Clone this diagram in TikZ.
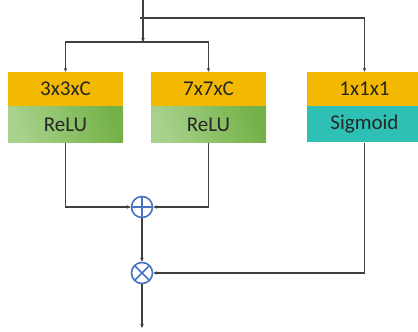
\documentclass[tikz,border=0pt]{standalone}
\usepackage{fontspec}
\setmainfont{Carlito}
\usetikzlibrary{arrows.meta,positioning,calc}
\definecolor{kgold}{RGB}{242,185,0}
\definecolor{kgreenA}{RGB}{168,210,140}
\definecolor{kgreenB}{RGB}{116,178,72}
\definecolor{kteal}{RGB}{46,192,181}
\definecolor{kblue}{RGB}{68,114,196}
\definecolor{kline}{RGB}{64,64,64}
\begin{document}
\begin{tikzpicture}[x=1pt,y=-1pt,
  convbox/.style={fill=kgold,minimum width=115pt,minimum height=34pt,inner sep=0pt,
    font=\fontsize{21}{24}\selectfont,text=black!85},
  actbox/.style={minimum width=115pt,minimum height=36pt,inner sep=0pt,
    font=\fontsize{21}{24}\selectfont,text=black!85},
  reluact/.style={actbox,left color=kgreenA,right color=kgreenB,shading angle=110},
  sigact/.style={actbox,fill=kteal},
  opcircle/.style={circle,draw=kblue,line width=1.6pt,minimum size=21pt,inner sep=0pt},
  conn/.style={-{Stealth[length=4pt,width=3.5pt]},kline,line width=1.1pt},
  wire/.style={kline,line width=1.1pt}
]
  \useasboundingbox (0,0) rectangle (418,332);
  % kernels
  \node[convbox] (k3) at (65.5,89) {3x3xC};
  \node[reluact,below=0pt of k3] (r3) {ReLU};
  \node[convbox] (k7) at (208.5,89) {7x7xC};
  \node[reluact,below=0pt of k7] (r7) {ReLU};
  \node[convbox] (k1) at (364.5,89) {1x1x1};
  \node[sigact,below=0pt of k1] (sg) {Sigmoid};
  % operators
  \node[opcircle,path picture={
      \draw[kblue,line width=1.6pt] (path picture bounding box.north) -- (path picture bounding box.south)
        (path picture bounding box.west) -- (path picture bounding box.east);}] (add) at (142,207) {};
  \node[opcircle,path picture={
      \draw[kblue,line width=1.6pt] (path picture bounding box.north west) -- (path picture bounding box.south east)
        (path picture bounding box.south west) -- (path picture bounding box.north east);}] (mul) at (142,273) {};
  % input and output
  \coordinate (in) at (143,0);
  \coordinate (tap) at (140,18);
  \coordinate (split) at (143,42);
  \coordinate (out) at (142,328);
  \draw[conn] (in) -- (split);
  \draw[conn] (split) -| (k3.north);
  \draw[conn] (split) -| (k7.north);
  \draw[conn] (tap) -| (k1.north);
  \draw[conn] (r3.south) |- (add.west);
  \draw[conn] (r7.south) |- (add.east);
  \draw[conn] (add) -- (mul);
  \draw[conn] (sg.south) |- (mul.east);
  \draw[conn] (mul) -- (out);
\end{tikzpicture}
\end{document}
